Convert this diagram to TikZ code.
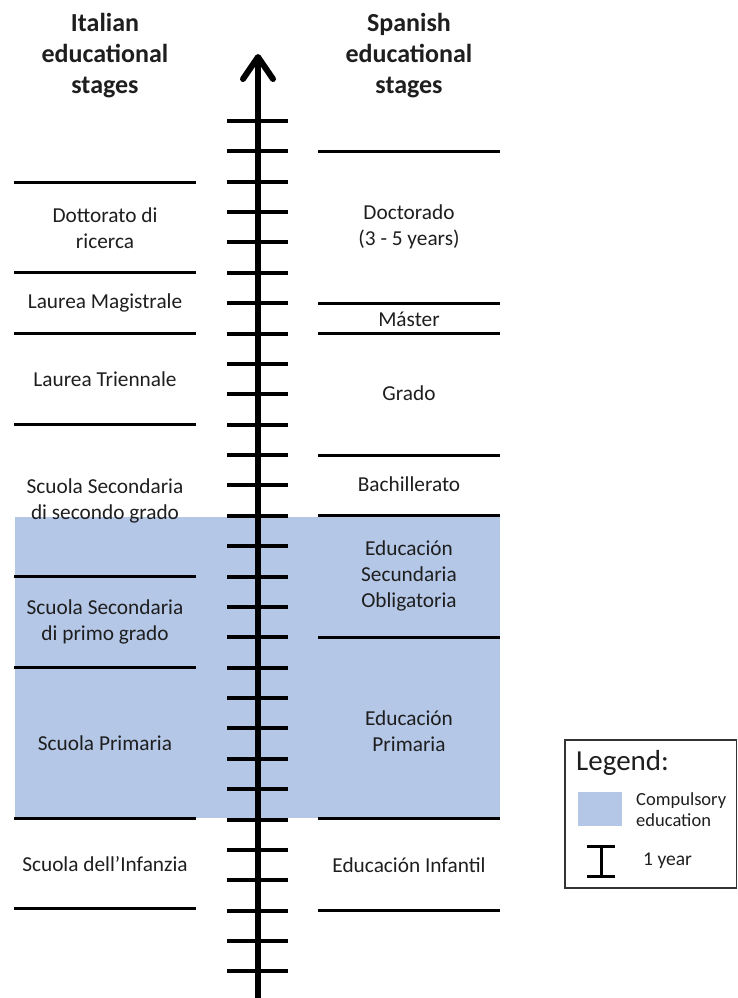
\documentclass[tikz,border=0pt]{standalone}
\usepackage{fontspec}
\setmainfont{Carlito}
\usetikzlibrary{arrows.meta}
\definecolor{compblue}{HTML}{B4C7E7}
\definecolor{txt}{HTML}{1E1E1E}
\begin{document}
\begin{tikzpicture}[x=1pt,y=-1pt,
  header/.style={align=center,font=\fontsize{26}{31}\selectfont\bfseries,text=txt,inner sep=0pt},
  stage/.style={align=center,font=\fontsize{21.3}{26}\selectfont,text=txt,inner sep=0pt},
  legtext/.style={align=left,font=\fontsize{18.5}{21}\selectfont,text=txt,inner sep=0pt,anchor=west},
  sep/.style={line width=3pt,black},
  tick/.style={line width=4pt,black}]
\useasboundingbox (0,0) rectangle (738,998);
% compulsory region
\fill[compblue] (15,517) rectangle (500,818);
% headers
\node[header] (hit) at (105,56) {Italian\\educational\\stages};
\node[header] (hes) at (409,56) {Spanish\\educational\\stages};
% Italian separators
\foreach \y in {182,272,333,424,576,667,818,908}
  \draw[sep] (14,\y) -- (196,\y);
% Spanish separators
\foreach \y in {151,303,333,455,515,637,818,910}
  \draw[sep] (318,\y) -- (500,\y);
% Italian stages
\node[stage] (it1) at (105,228) {Dottorato di\\ricerca};
\node[stage] (it2) at (105,303) {Laurea Magistrale};
\node[stage] (it3) at (105,379) {Laurea Triennale};
\node[stage] (it4) at (105,501) {Scuola Secondaria\\di secondo grado};
\node[stage] (it5) at (105,622) {Scuola Secondaria\\di primo grado};
\node[stage] (it6) at (105,743) {Scuola Primaria};
\node[stage] (it7) at (105,864) {Scuola dell’Infanzia};
% Spanish stages
\node[stage] (es1) at (409,227) {Doctorado\\(3 - 5 years)};
\node[stage] (es2) at (409,319) {Máster};
\node[stage] (es3) at (409,393) {Grado};
\node[stage] (es4) at (409,484) {Bachillerato};
\node[stage] (es5) at (409,576) {Educación\\Secundaria\\Obligatoria};
\node[stage] (es6) at (409,731) {Educación\\Primaria};
\node[stage] (es7) at (409,865) {Educación Infantil};
% axis
\coordinate (axbot) at (258,1000);
\coordinate (axtop) at (258,54);
\draw[line width=6pt,-{Straight Barb[length=22pt,width=30pt,round]}] (axbot) -- (axtop);
\foreach \i in {0,...,28}
  \draw[tick] (227,{121+\i*30.37}) -- (288,{121+\i*30.37});
% legend
\draw[line width=1.5pt,black!80] (565,740) rectangle (736.5,888);
\node[font=\fontsize{29}{32}\selectfont,text=txt,inner sep=0pt,anchor=west] (legt) at (576,763) {Legend:};
\fill[compblue] (578,792) rectangle (622,826);
\node[legtext] (legc) at (636,810) {Compulsory\\education};
\draw[line width=3pt] (601,846) -- (601,876);
\draw[line width=3pt] (587,846) -- (615,846);
\draw[line width=3pt] (587,876) -- (615,876);
\node[legtext,font=\fontsize{19.5}{21}\selectfont] (legy) at (643,861) {1 year};
\end{tikzpicture}
\end{document}
